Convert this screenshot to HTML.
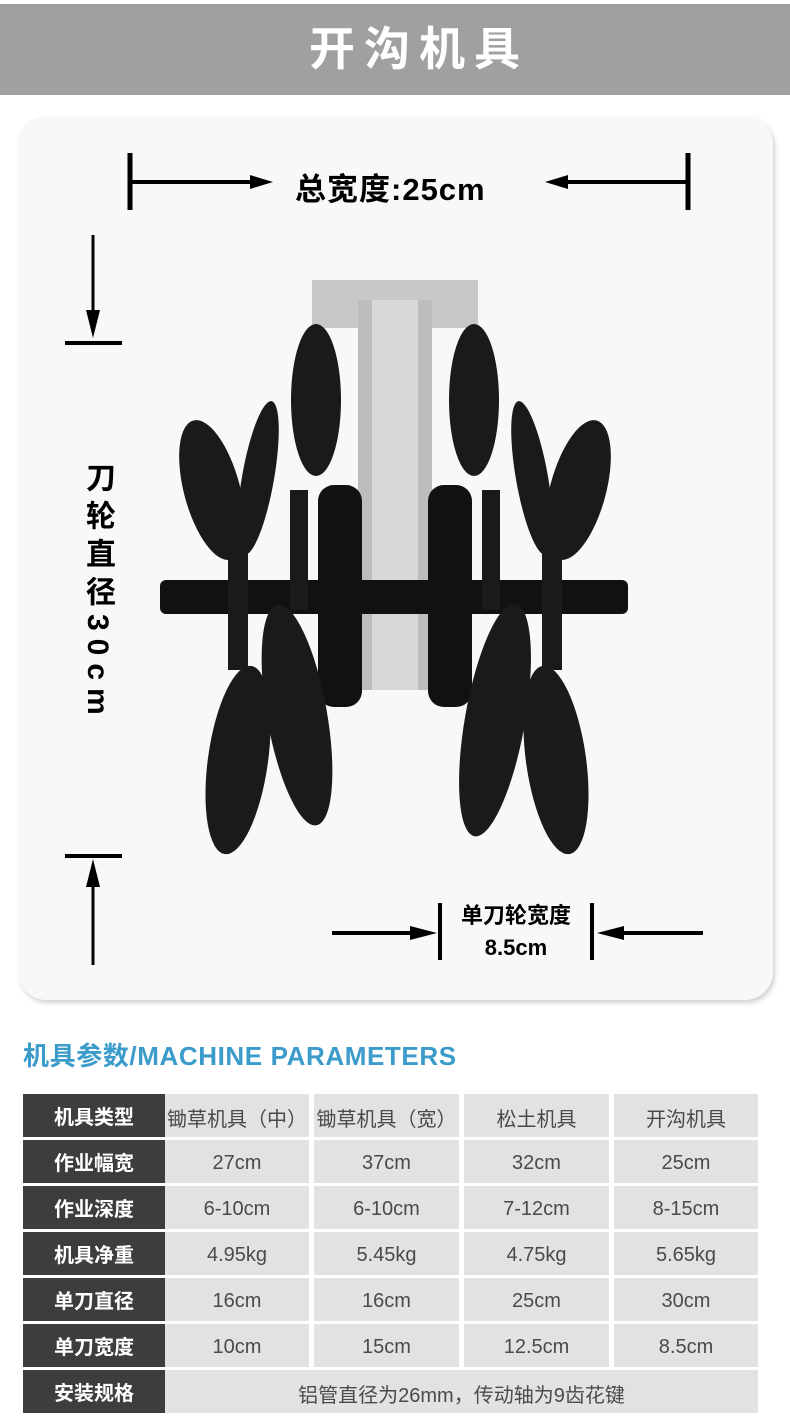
<!DOCTYPE html>
<html><head><meta charset="utf-8"><style>
body{margin:0;width:790px;height:1423px;background:#fff;position:relative;overflow:hidden;font-family:"Liberation Sans","Noto Sans CJK SC",sans-serif}
.hdr{position:absolute;left:0;top:4px;width:790px;height:91px;background:#a0a0a0;color:#fff;font-weight:bold;font-size:46px;letter-spacing:9px;text-align:center;line-height:91px;text-indent:48px}
.card{position:absolute;left:18px;top:116px;width:755px;height:884px;background:#f8f8f8;border-radius:28px;box-shadow:2px 3px 5px rgba(0,0,0,.18)}
.t{position:absolute;font-weight:bold;color:#000}
.ttl{position:absolute;left:23px;top:1036px;font-size:26px;font-weight:bold;color:#3b9bcb;letter-spacing:0.6px}
.c{position:absolute;display:flex;align-items:center;justify-content:center;font-size:20px;color:#4a4a4a;background:#e2e2e2;padding-top:3px;box-sizing:border-box}
.l{background:#3d3d3d;color:#fff;font-weight:bold;font-size:20px;padding-top:0}
</style></head><body>
<div class="hdr">开沟机具</div>
<div class="card"></div>
<svg style="position:absolute;left:0;top:0" width="790" height="1010">
<g fill="#000" stroke="#000">
<line x1="130" y1="153" x2="130" y2="210" stroke-width="5"/>
<line x1="688" y1="153" x2="688" y2="210" stroke-width="5"/>
<line x1="130" y1="182" x2="250" y2="182" stroke-width="4"/>
<polygon points="250,175 273,182 250,189" stroke="none"/>
<line x1="688" y1="182" x2="568" y2="182" stroke-width="4"/>
<polygon points="568,175 545,182 568,189" stroke="none"/>
<line x1="65" y1="343" x2="122" y2="343" stroke-width="4"/>
<line x1="93" y1="235" x2="93" y2="315" stroke-width="3"/>
<polygon points="86,310 93,338 100,310" stroke="none"/>
<line x1="65" y1="856" x2="122" y2="856" stroke-width="4"/>
<line x1="93" y1="965" x2="93" y2="885" stroke-width="3"/>
<polygon points="86,887 93,859 100,887" stroke="none"/>
<line x1="440" y1="903" x2="440" y2="960" stroke-width="4"/>
<line x1="592" y1="903" x2="592" y2="960" stroke-width="4"/>
<line x1="332" y1="933" x2="412" y2="933" stroke-width="4"/>
<polygon points="410,926 437,933 410,940" stroke="none"/>
<line x1="703" y1="933" x2="622" y2="933" stroke-width="4"/>
<polygon points="624,926 597,933 624,940" stroke="none"/>
</g>
<rect x="312" y="280" width="166" height="48" fill="#c8c8c8"/>
<rect x="358" y="300" width="74" height="390" fill="#bdbdbd"/>
<rect x="372" y="300" width="46" height="390" fill="#d8d8d8"/>
<rect x="160" y="580" width="468" height="34" rx="6" fill="#111"/>
<rect x="318" y="485" width="44" height="222" rx="16" fill="#111"/>
<rect x="428" y="485" width="44" height="222" rx="16" fill="#111"/>
<g fill="#1a1a1a">
<ellipse cx="212" cy="490" rx="28" ry="72" transform="rotate(-15 212 490)"/>
<ellipse cx="258" cy="478" rx="16" ry="78" transform="rotate(10 258 478)"/>
<ellipse cx="316" cy="400" rx="25" ry="76"/>
<ellipse cx="578" cy="490" rx="28" ry="72" transform="rotate(15 578 490)"/>
<ellipse cx="532" cy="478" rx="16" ry="78" transform="rotate(-10 532 478)"/>
<ellipse cx="474" cy="400" rx="25" ry="76"/>
<ellipse cx="238" cy="760" rx="30" ry="95" transform="rotate(8 238 760)"/>
<ellipse cx="297" cy="715" rx="30" ry="112" transform="rotate(-10 297 715)"/>
<ellipse cx="495" cy="720" rx="30" ry="118" transform="rotate(10 495 720)"/>
<ellipse cx="556" cy="760" rx="30" ry="95" transform="rotate(-8 556 760)"/>
<rect x="228" y="530" width="20" height="140"/>
<rect x="290" y="490" width="18" height="120"/>
<rect x="482" y="490" width="18" height="120"/>
<rect x="542" y="530" width="20" height="140"/>
</g>
</svg>
<div class="t" style="left:295px;top:164px;font-size:31px;letter-spacing:1px">总宽度:25cm</div>
<div class="t" style="left:75px;top:462px;font-size:30px;writing-mode:vertical-rl;letter-spacing:8px">刀轮直径30cm</div>
<div class="t" style="left:445px;top:900px;width:142px;text-align:center;font-size:22px;line-height:32px">单刀轮宽度<br>8.5cm</div>
<div class="ttl">机具参数/MACHINE PARAMETERS</div>
<div class="c l" style="left:23px;top:1094px;width:142px;height:43px">机具类型</div>
<div class="c" style="left:165px;top:1094px;width:144px;height:43px">锄草机具（中）</div>
<div class="c" style="left:314px;top:1094px;width:145px;height:43px">锄草机具（宽）</div>
<div class="c" style="left:464px;top:1094px;width:145px;height:43px">松土机具</div>
<div class="c" style="left:614px;top:1094px;width:144px;height:43px">开沟机具</div>

<div class="c l" style="left:23px;top:1140px;width:142px;height:43px">作业幅宽</div>
<div class="c" style="left:165px;top:1140px;width:144px;height:43px">27cm</div>
<div class="c" style="left:314px;top:1140px;width:145px;height:43px">37cm</div>
<div class="c" style="left:464px;top:1140px;width:145px;height:43px">32cm</div>
<div class="c" style="left:614px;top:1140px;width:144px;height:43px">25cm</div>

<div class="c l" style="left:23px;top:1186px;width:142px;height:43px">作业深度</div>
<div class="c" style="left:165px;top:1186px;width:144px;height:43px">6-10cm</div>
<div class="c" style="left:314px;top:1186px;width:145px;height:43px">6-10cm</div>
<div class="c" style="left:464px;top:1186px;width:145px;height:43px">7-12cm</div>
<div class="c" style="left:614px;top:1186px;width:144px;height:43px">8-15cm</div>

<div class="c l" style="left:23px;top:1232px;width:142px;height:43px">机具净重</div>
<div class="c" style="left:165px;top:1232px;width:144px;height:43px">4.95kg</div>
<div class="c" style="left:314px;top:1232px;width:145px;height:43px">5.45kg</div>
<div class="c" style="left:464px;top:1232px;width:145px;height:43px">4.75kg</div>
<div class="c" style="left:614px;top:1232px;width:144px;height:43px">5.65kg</div>

<div class="c l" style="left:23px;top:1278px;width:142px;height:43px">单刀直径</div>
<div class="c" style="left:165px;top:1278px;width:144px;height:43px">16cm</div>
<div class="c" style="left:314px;top:1278px;width:145px;height:43px">16cm</div>
<div class="c" style="left:464px;top:1278px;width:145px;height:43px">25cm</div>
<div class="c" style="left:614px;top:1278px;width:144px;height:43px">30cm</div>

<div class="c l" style="left:23px;top:1324px;width:142px;height:43px">单刀宽度</div>
<div class="c" style="left:165px;top:1324px;width:144px;height:43px">10cm</div>
<div class="c" style="left:314px;top:1324px;width:145px;height:43px">15cm</div>
<div class="c" style="left:464px;top:1324px;width:145px;height:43px">12.5cm</div>
<div class="c" style="left:614px;top:1324px;width:144px;height:43px">8.5cm</div>

<div class="c l" style="left:23px;top:1370px;width:142px;height:43px">安装规格</div>
<div class="c" style="left:165px;top:1370px;width:593px;height:43px">铝管直径为26mm，传动轴为9齿花键</div>
</body></html>
